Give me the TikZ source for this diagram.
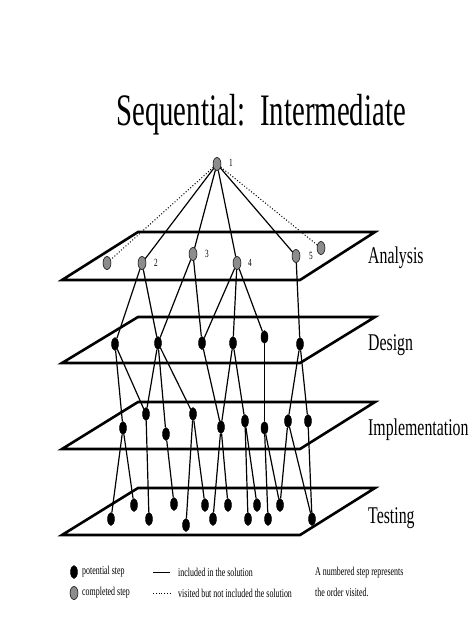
\documentclass[tikz,border=0pt]{standalone}
\usepackage{fontspec}
\setmainfont{Liberation Serif}
\usepackage{graphicx}
\usetikzlibrary{shapes.geometric}
\newcommand{\nar}[1]{\scalebox{0.66}[1]{#1}}
\definecolor{donegray}{RGB}{140,140,140}
\begin{document}
\begin{tikzpicture}[x=1pt,y=-1pt,
  plane/.style={line width=2.6pt, line join=miter},
  potential/.style={ellipse, fill=black, draw=black, inner sep=0pt, minimum width=7pt, minimum height=13pt},
  completed/.style={ellipse, fill=donegray, draw=black, line width=0.5pt, inner sep=0pt, minimum width=8pt, minimum height=13pt},
  link/.style={line width=1.2pt},
  visit/.style={line width=1pt, dotted},
  numlbl/.style={font=\fontsize{11}{11}\selectfont, inner sep=0pt},
  lvl/.style={font=\fontsize{24}{24}\selectfont, anchor=base west, inner sep=0pt},
  leg/.style={font=\fontsize{12}{12}\selectfont, anchor=west, inner sep=0pt}
]
\useasboundingbox (0,0) rectangle (474,632);

% title
\node[anchor=base, inner sep=0pt, font=\fontsize{45}{45}\selectfont] (title) at (261,125) {\scalebox{0.64}[1]{Sequential:\ \ Intermediate}};

% planes
\foreach \t/\b in {232/280, 317/363, 402/449, 488/535}{
  \draw[plane] (62,\b) -- (300,\b) -- (375,\t) -- (138,\t) -- cycle;
}
\node[lvl] (lA) at (368,263) {\nar{Analysis}};
\node[lvl] (lD) at (368,350) {\nar{Design}};
\node[lvl] (lI) at (368,435) {\nar{Implementation}};
\node[lvl] (lT) at (368,523) {\nar{Testing}};

% analysis
\node[completed] (A1) at (217,164) {};
\node[completed] (A0) at (107,263) {};
\node[completed] (A2) at (142,263) {};
\node[completed] (A3) at (193,254) {};
\node[completed] (A4) at (237,263) {};
\node[completed] (A5) at (296,256) {};
\node[completed] (A6) at (321,248) {};
\node[numlbl] (n1) at (231,163) {\nar{1}};
\node[numlbl] (n2) at (156,263) {\nar{2}};
\node[numlbl] (n3) at (207,254) {\nar{3}};
\node[numlbl] (n4) at (250,263) {\nar{4}};
\node[numlbl] (n5) at (311,256) {\nar{5}};

% design
\node[potential] (D1) at (115,344) {};
\node[potential] (D2) at (158,343) {};
\node[potential] (D3) at (202,343) {};
\node[potential] (D4) at (233,343) {};
\node[potential] (D5) at (264.5,337) {};
\node[potential] (D6) at (300,344) {};

% implementation
\node[potential] (I1) at (123,428) {};
\node[potential] (I2) at (146,414) {};
\node[potential] (I3) at (166,434) {};
\node[potential] (I4) at (193,414) {};
\node[potential] (I5) at (221,427) {};
\node[potential] (I6) at (245,421) {};
\node[potential] (I7) at (264.5,428) {};
\node[potential] (I8) at (288,421) {};
\node[potential] (I9) at (308,421) {};

% testing
\node[potential] (T1) at (111,519) {};
\node[potential] (T2) at (134,505) {};
\node[potential] (T3) at (149,519) {};
\node[potential] (T4) at (174,504) {};
\node[potential] (T5) at (186,525) {};
\node[potential] (T6) at (205,505) {};
\node[potential] (T7) at (213,519) {};
\node[potential] (T8) at (228,505) {};
\node[potential] (T9) at (248,519) {};
\node[potential] (T10) at (257,505) {};
\node[potential] (T11) at (268,519) {};
\node[potential] (T12) at (280,505) {};
\node[potential] (T13) at (312,519) {};

% connectors
\draw[visit] (A1) -- (A0);
\draw[visit] (A1) -- (A6);
\foreach \a/\b in {A1/A2, A1/A3, A1/A4, A1/A5,
  A2/D1, A2/D2, A3/D2, A3/D3, A4/D3, A4/D4, A4/D5, A5/D6,
  D1/I1, D1/I2, D2/I2, D2/I3, D2/I4, D3/I5, D4/I5, D4/I6, D5/I7, D6/I8, D6/I9,
  I1/T1, I1/T2, I2/T3, I3/T4, I4/T5, I4/T6, I5/T7, I5/T8, I6/T9, I6/T10,
  I7/T11, I7/T12, I8/T12, I8/T13, I9/T13}{
  \draw[link] (\a) -- (\b);
}

% legend
\node[potential] (Lp) at (74,572) {};
\node[completed] (Lc) at (74,593) {};
\node[leg] (tp) at (82,572) {\nar{potential step}};
\node[leg] (tc) at (82,593) {\nar{completed step}};
\coordinate (s1) at (153,572);
\coordinate (s2) at (170,572);
\coordinate (d1) at (153,593);
\coordinate (d2) at (170,593);
\draw[line width=0.8pt] (s1) -- (s2);
\draw[line width=0.8pt, dotted] (d1) -- (d2);
\node[leg] (ti) at (178,572) {\nar{included in the solution}};
\node[leg] (tv) at (178,593) {\nar{visited but not included the solution}};
\node[leg] (ta) at (315,573) {\nar{A numbered step represents}};
\node[leg] (tb) at (315,592) {\nar{the order visited.}};
\end{tikzpicture}
\end{document}
